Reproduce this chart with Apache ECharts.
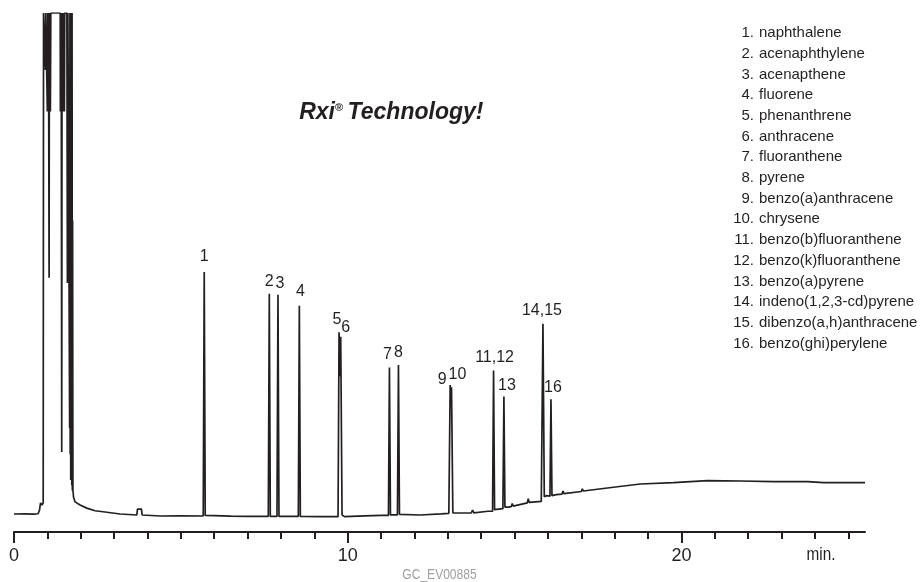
<!DOCTYPE html>
<html>
<head>
<meta charset="utf-8">
<script src="https://cdn.jsdelivr.net/npm/echarts@6/dist/echarts.min.js"></script>
<style>
html,body{margin:0;padding:0;background:#fff;}
#chart{width:924px;height:582px;}
</style>
</head>
<body>
<div id="chart"></div>
<script>
// ---- data (retention time in min, detector signal in arbitrary units, 100 = off scale) ----
const trace = [
  [0.00,3.47],[0.30,3.50],[0.60,3.45],[0.72,3.52],[0.765,4.2],[0.795,5.6],[0.84,5.2],[0.875,5.6],
  [0.885,100],[0.93,100],[0.94,89],[0.95,100],[0.99,100],[1.00,81],[1.01,100],[1.02,81],[1.03,100],
  [1.04,81],[1.052,49],[1.06,100],[1.07,81],[1.08,100],[1.09,81],[1.103,100],
  [1.385,100],[1.39,81],[1.40,100],[1.405,81],[1.415,100],[1.43,15.4],[1.44,100],[1.45,81],[1.46,100],
  [1.47,81],[1.48,100],[1.49,81],[1.50,100],[1.51,81],[1.52,100],[1.585,100],
  [1.60,48],[1.615,100],[1.66,100],[1.668,20],[1.676,100],[1.684,15],[1.692,100],[1.70,10],
  [1.708,100],[1.716,12],[1.724,100],[1.732,9],[1.74,100],[1.748,8],[1.756,60],[1.765,8.1],
  [1.785,6.7],[1.83,5.8],
  [1.98,5.2],[2.18,4.6],[2.43,4.1],[2.67,3.9],[3.18,3.47],[3.68,3.28],[3.70,4.4],[3.82,4.4],
  [3.84,3.28],[4.38,3.08],[5.00,3.10],
  [5.67,3.08],[5.70,50.1],[5.73,3.2],[6.50,3.05],[7.00,3.00],
  [7.62,3.00],[7.65,45.9],[7.68,3.00],[7.88,3.00],[7.91,45.7],[7.94,3.00],
  [8.52,3.00],[8.55,43.6],[8.58,3.00],[9.20,2.95],
  [9.71,2.95],[9.74,38.5],[9.765,30],[9.79,37.6],[9.83,3.3],[9.90,2.95],[10.5,3.10],[11.0,3.20],
  [11.22,3.20],[11.25,31.7],[11.28,3.30],[11.49,3.30],[11.52,32.2],[11.55,3.40],[12.17,3.28],[12.8,3.50],
  [13.03,3.60],[13.07,28.3],[13.09,26],[13.11,27.9],[13.15,3.70],
  [13.70,3.66],[13.74,4.2],[13.78,3.70],[14.20,4.00],
  [14.34,4.00],[14.37,31.1],[14.40,4.30],[14.65,4.50],[14.68,26.1],[14.71,4.80],[14.80,4.80],
  [14.90,4.90],[14.93,5.5],[14.96,5.00],[15.38,5.60],[15.41,6.4],[15.44,5.70],
  [15.80,5.90],[15.85,40.1],[15.89,6.80],[15.95,7.00],
  [16.06,6.90],[16.09,25.6],[16.12,7.00],[16.25,7.20],
  [16.42,7.30],[16.45,7.9],[16.48,7.40],[17.00,7.80],[17.03,8.3],[17.06,7.90],
  [17.78,8.48],[18.77,9.25],[19.76,9.50],[20.78,9.88],[21.77,9.83],[22.76,9.69],[23.78,9.69],
  [24.26,9.50],[25.50,9.50]
];

// peak labels anchored at the peak apex [time, signal]
const peakLabelText = ['1','2','3','4','5','6','7','8','9','10','11,12','13','14,15','16'];
const peakApexTime  = [5.70,7.65,7.91,8.55,9.74,9.79,11.25,11.52,13.07,13.11,14.37,14.68,15.85,16.09];
const peakApexValue = [50.1,45.9,45.7,43.6,38.5,37.6,31.7,32.2,28.3,27.9,31.1,26.1,40.1,25.6];

const compounds = [
  'naphthalene','acenaphthylene','acenapthene','fluorene','phenanthrene','anthracene',
  'fluoranthene','pyrene','benzo(a)anthracene','chrysene','benzo(b)fluoranthene',
  'benzo(k)fluoranthene','benzo(a)pyrene','indeno(1,2,3-cd)pyrene',
  'dibenzo(a,h)anthracene','benzo(ghi)perylene'
];

const majorTicks = [0, 10, 20];
const minorTicks = [1,2,3,4,5,6,7,8,9,11,12,13,14,15,16,17,18,19,21,22,23,24,25];
const xMin = 0, xMax = 25.5;

// ---- styles ----
const INK = '#231f20';
const SANS = '"Liberation Sans", Arial, sans-serif';
// label offsets (px) from the apex to the label centre
const labelOffsets = [[0,-15],[0,-12],[2,-11],[1,-14],[-2,-13],[5,-9],[-2,-13],[0,-12],
                      [-8,-6],[6,-13],[1,-13],[3,-11],[-1,-13],[2,-12]];

const chart = echarts.init(document.getElementById('chart'), null, {renderer: 'canvas'});

const baseGraphic = [];
compounds.forEach((c, i) => {
  const y = 33 + i * 20.7;
  baseGraphic.push({type:'text', id:'ln'+i, x:754, y:y, style:{text:(i+1)+'.', fill:INK, fontFamily:SANS, fontSize:15, align:'right', verticalAlign:'middle'}});
  baseGraphic.push({type:'text', id:'lt'+i, x:759, y:y, style:{text:c, fill:INK, fontFamily:SANS, fontSize:15, align:'left', verticalAlign:'middle'}});
});
baseGraphic.push(
  {type:'text', id:'t1', x:335, y:113, style:{text:'Rxi', fill:INK, fontFamily:SANS, fontSize:23, fontWeight:'bold', fontStyle:'italic', align:'right', verticalAlign:'middle'}},
  {type:'text', id:'t2', x:335, y:108, style:{text:'®', fill:INK, fontFamily:SANS, fontSize:11, fontWeight:'bold', align:'left', verticalAlign:'middle'}},
  {type:'text', id:'t3', x:415.5, y:113, style:{text:'Technology!', fill:INK, fontFamily:SANS, fontSize:23, fontWeight:'bold', fontStyle:'italic', align:'center', verticalAlign:'middle'}},
  {type:'text', id:'mn', x:821, y:555, scaleX:0.85, style:{text:'min.', fill:INK, fontFamily:SANS, fontSize:18, align:'center', verticalAlign:'middle'}},
  {type:'text', id:'gc', x:439.5, y:575.5, scaleX:0.86, style:{text:'GC_EV00885', fill:'#a0a0a0', fontFamily:SANS, fontSize:14, align:'center', verticalAlign:'middle'}}
);

const option = {
  backgroundColor: '#fff',
  animation: false,
  grid: {left: 14, right: 59, top: 13, bottom: 50, containLabel: false},
  xAxis: [
    {
      type: 'value', min: xMin, max: xMax, position: 'bottom',
      axisLine: {show: true, lineStyle: {color: INK, width: 2}},
      axisTick: {show: true, length: 11, lineStyle: {color: INK, width: 2}, customValues: majorTicks},
      axisLabel: {show: true, customValues: majorTicks, color: INK, fontFamily: SANS, fontSize: 18, margin: 15},
      splitLine: {show: false}
    },
    {
      type: 'value', min: xMin, max: xMax, position: 'bottom', gridIndex: 0,
      axisLine: {show: false},
      axisTick: {show: true, length: 7, lineStyle: {color: INK, width: 2}, customValues: minorTicks},
      axisLabel: {show: false},
      splitLine: {show: false}
    }
  ],
  yAxis: {type: 'value', min: 0, max: 100, show: false},
  series: [
    {
      type: 'line', data: trace, xAxisIndex: 0, showSymbol: false, symbol: 'none',
      lineStyle: {color: INK, width: 1.7}, clip: true, silent: true
    }
  ],
  graphic: {elements: baseGraphic}
};
chart.setOption(option);

// peak labels placed through the chart's own axis scales
const labelGraphic = peakLabelText.map((t, i) => {
  const p = chart.convertToPixel({xAxisIndex: 0, yAxisIndex: 0}, [peakApexTime[i], peakApexValue[i]]);
  return {type:'text', id:'pk'+i, x: p[0] + labelOffsets[i][0], y: p[1] + labelOffsets[i][1],
          style:{text:t, fill:INK, fontFamily:SANS, fontSize:16, align:'center', verticalAlign:'middle'}};
});
chart.setOption({graphic: {elements: baseGraphic.concat(labelGraphic)}});
</script>
</body>
</html>
